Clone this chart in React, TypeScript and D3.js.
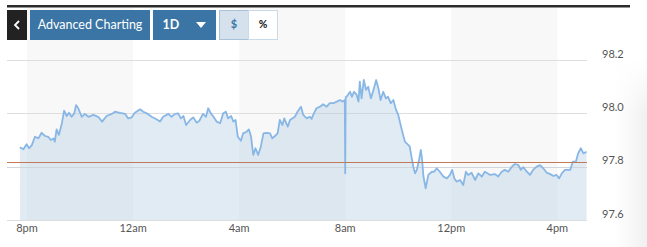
import React from "react";
import * as d3 from "d3";

// minutes after 8pm
const minutes = [
  -16, -8, -1, 5, 11, 18, 26, 33, 41, 48, 54, 60, 63, 67, 72, 79, 84, 90, 95, 101,
  107, 111, 116, 124, 131, 139, 150, 161, 170, 180, 192, 199, 210, 222, 229, 237, 244, 256, 263, 271,
  282, 293, 301, 308, 320, 327, 335, 342, 348, 354, 360, 369, 376, 384, 390, 398, 405, 410, 416, 422,
  429, 437, 444, 450, 455, 462, 467, 472, 477, 484, 489, 497, 502, 507, 512, 517, 523, 529, 535, 542,
  550, 555, 561, 567, 572, 578, 582, 590, 595, 600, 606, 612, 620, 625, 633, 640, 644, 648, 655, 663,
  670, 678, 685, 693, 701, 708, 714, 719, 720, 721, 723, 731, 735, 740, 746, 750, 753, 757, 762, 767,
  772, 778, 784, 790, 795, 800, 806, 812, 817, 823, 829, 835, 840, 848, 855, 863, 866, 870, 874, 878,
  882, 887, 891, 894, 897, 902, 908, 916, 921, 927, 934, 942, 950, 957, 962, 967, 972, 980, 987, 993,
  998, 1006, 1014, 1021, 1029, 1036, 1048, 1059, 1066, 1074, 1081, 1089, 1097, 1104, 1112, 1117, 1123, 1131, 1138, 1145,
  1153, 1161, 1168, 1176, 1183, 1191, 1198, 1204, 1210, 1217, 1229, 1235, 1242, 1247, 1253, 1259, 1266,
];

const prices = [
  97.873, 97.865, 97.884, 97.869, 97.881, 97.912, 97.906, 97.927, 97.915, 97.912, 97.9, 97.906, 97.894, 97.94, 97.919, 97.963, 98.01, 97.99, 98.002, 97.987,
  98.0, 98.031, 98.019, 97.987, 97.998, 97.987, 97.994, 97.987, 97.969, 97.99, 97.998, 98.006, 98.002, 97.998, 97.981, 97.985, 98.002, 98.015, 98.006, 98.0,
  97.987, 97.978, 97.969, 97.987, 97.998, 97.987, 97.998, 98.0, 97.981, 97.99, 97.956, 97.975, 97.985, 97.965, 97.972, 97.998, 97.987, 98.019, 98.0, 97.987,
  97.969, 97.963, 98.0, 98.006, 97.981, 97.99, 97.969, 97.975, 97.912, 97.897, 97.925, 97.931, 97.94, 97.912, 97.844, 97.869, 97.844, 97.875, 97.925, 97.927,
  97.925, 97.906, 97.915, 97.925, 97.975, 97.956, 97.981, 97.95, 97.975, 97.981, 97.987, 98.006, 98.025, 97.994, 97.981, 97.987, 97.979, 97.996, 98.019, 98.025,
  98.034, 98.025, 98.038, 98.038, 98.044, 98.05, 98.044, 98.05, 97.775, 98.06, 98.062, 98.081, 98.062, 98.081, 98.069, 98.044, 98.119, 98.056, 98.125, 98.088,
  98.1, 98.056, 98.088, 98.125, 98.094, 98.05, 98.081, 98.056, 98.062, 98.038, 98.05, 98.013, 97.994, 97.938, 97.894, 97.881, 97.875, 97.837, 97.8, 97.775,
  97.788, 97.825, 97.863, 97.825, 97.763, 97.719, 97.769, 97.781, 97.781, 97.794, 97.781, 97.763, 97.756, 97.769, 97.788, 97.756, 97.744, 97.75, 97.731, 97.781,
  97.769, 97.777, 97.75, 97.775, 97.763, 97.781, 97.769, 97.772, 97.763, 97.781, 97.788, 97.781, 97.8, 97.81, 97.806, 97.788, 97.798, 97.781, 97.769, 97.788,
  97.8, 97.806, 97.794, 97.777, 97.773, 97.765, 97.769, 97.756, 97.775, 97.788, 97.788, 97.819, 97.819, 97.85, 97.869, 97.85, 97.856,
];

const previousClose = 97.8125;
const yTicks = [97.6, 97.8, 98.0, 98.2];

const W = 647;
const H = 247;
const base = new Date(2019, 0, 1, 20, 0, 0);
const at = (m: number) => new Date(base.getTime() + m * 60000);
const crisp = (v: number) => Math.round(v) + 0.5;

export default function App() {
  const x = d3.scaleTime().domain([at(-45.2), at(1267)]).range([7, 587]);
  const y = d3.scaleLinear().domain([97.6, 98.2]).range([220, 60]);
  const data = minutes.map((m, i) => ({ t: at(m), v: prices[i] }));

  const line = d3
    .line<{ t: Date; v: number }>()
    .x((d) => x(d.t))
    .y((d) => y(d.v));
  const area = d3
    .area<{ t: Date; v: number }>()
    .x((d) => x(d.t))
    .y0(y(97.6))
    .y1((d) => y(d.v));

  const hourTicks = d3.timeHour.every(4)!.range(at(-45), at(1267));
  const fmt = d3.timeFormat("%-I%p");
  const bandEdges = [...hourTicks.map((d) => x(d)), 587];
  const bands: [number, number][] = [];
  for (let i = 0; i < bandEdges.length - 1; i += 2) bands.push([bandEdges[i], bandEdges[i + 1]]);

  const font = "Lato, 'Open Sans', sans-serif";

  return (
    <svg
      width={W}
      height={H}
      style={{ position: "fixed", left: 0, top: 0, background: "#fff" }}
      fontFamily={font}
    >
      <defs>
        <linearGradient id="shadow" x1="0" x2="1" y1="0" y2="0">
          <stop offset="0" stopColor="#000" stopOpacity="0" />
          <stop offset="1" stopColor="#000" stopOpacity="0.06" />
        </linearGradient>
        <linearGradient id="shadowV" x1="0" x2="0" y1="0" y2="1">
          <stop offset="0" stopColor="#fff" stopOpacity="1" />
          <stop offset="0.3" stopColor="#fff" stopOpacity="0" />
        </linearGradient>
      </defs>
      <rect x={615} y={60} width={32} height={187} fill="url(#shadow)" />
      <rect x={615} y={60} width={32} height={187} fill="url(#shadowV)" />

      {bands.map(([a, b], i) => (
        <rect key={i} x={a} y={8} width={b - a} height={212} fill="#f8f8f8" />
      ))}

      {yTicks.map((t) => (
        <line key={t} x1={7} x2={587} y1={crisp(y(t))} y2={crisp(y(t))} stroke="#dedede" strokeWidth={1} />
      ))}

      <path d={area(data) || ""} fill="rgb(180,205,228)" fillOpacity={0.4} />
      <line x1={7} x2={587} y1={crisp(y(97.8))} y2={crisp(y(97.8))} stroke="#cfd6dc" strokeWidth={1} />
      <line x1={7} x2={587} y1={crisp(y(97.6))} y2={crisp(y(97.6))} stroke="#dedede" strokeWidth={1} />
      <path d={line(data) || ""} fill="none" stroke="#88b7e6" strokeWidth={1.8} strokeLinejoin="round" />
      <line
        x1={7}
        x2={587}
        y1={crisp(y(previousClose)) - 1}
        y2={crisp(y(previousClose)) - 1}
        stroke="#c27a56"
        strokeWidth={1}
      />

      {yTicks.map((t) => (
        <text key={t} x={602} y={y(t) - 5} fontSize={11} fill="#555" dominantBaseline="middle">
          {t.toFixed(1)}
        </text>
      ))}
      {hourTicks.map((d, i) => (
        <text key={i} x={x(d)} y={229} fontSize={11} fill="#555" textAnchor="middle" dominantBaseline="middle">
          {fmt(d).toLowerCase()}
        </text>
      ))}

      {/* top bar and controls */}
      <rect x={7} y={5} width={623} height={2.5} fill="#2b2b2b" />
      <rect x={7} y={10} width={20} height={30} fill="#222" />
      <path d="M19,21 L15,25 L19,29" fill="none" stroke="#fff" strokeWidth={1.8} />
      <rect x={30} y={10} width={120} height={30} fill="#3a75a5" />
      <text x={90} y={25.5} fontSize={12.5} fill="#fff" textAnchor="middle" dominantBaseline="middle">
        Advanced Charting
      </text>
      <rect x={153} y={10} width={63} height={30} fill="#3a75a5" />
      <text x={171} y={25.5} fontSize={12.5} fontWeight="bold" fill="#fff" textAnchor="middle" dominantBaseline="middle">
        1D
      </text>
      <path d="M196,22 L206,22 L201,28 Z" fill="#fff" />
      <rect x={219.5} y={10.5} width={29} height={29} fill="#d5e2ee" stroke="#aac2d8" />
      <text x={234} y={25.5} fontSize={11} fontWeight="bold" fill="#3a75a5" textAnchor="middle" dominantBaseline="middle">
        $
      </text>
      <rect x={248.5} y={10.5} width={29} height={29} fill="#fff" stroke="#c8d9e7" />
      <text x={263} y={25.5} fontSize={10.5} fontWeight="bold" fill="#111" textAnchor="middle" dominantBaseline="middle">
        %
      </text>
    </svg>
  );
}
